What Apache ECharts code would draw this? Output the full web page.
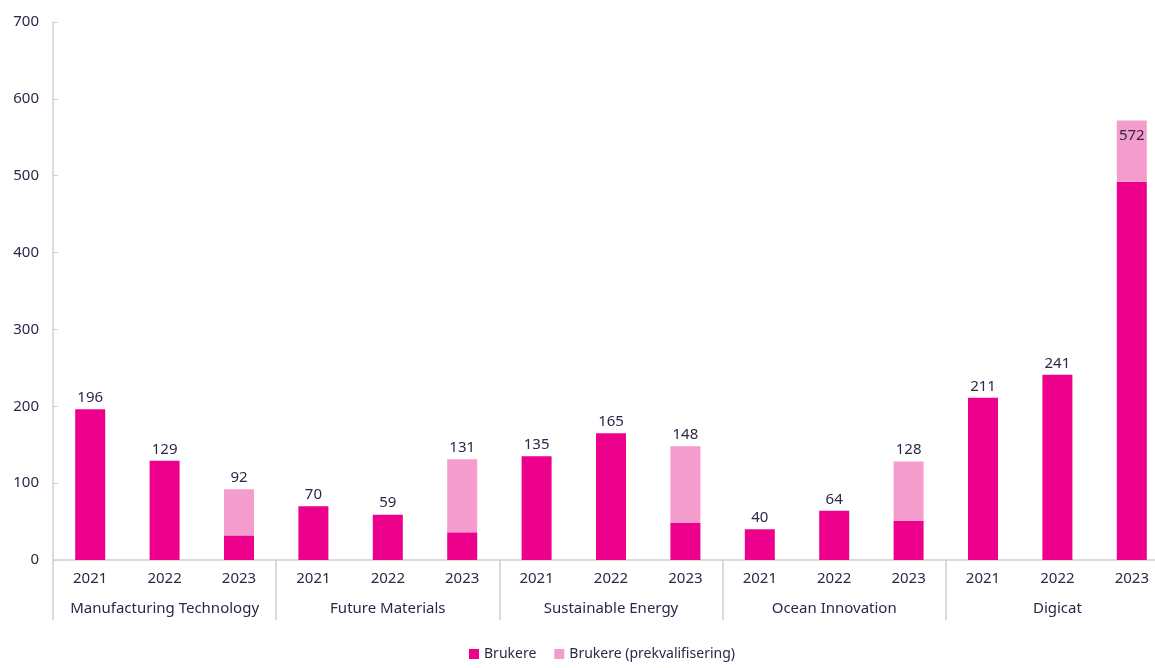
<!DOCTYPE html>
<html>
<head>
<meta charset="utf-8">
<script src="https://cdn.jsdelivr.net/npm/echarts@6/dist/echarts.min.js"></script>
<style>
  html, body { margin: 0; padding: 0; background: #fff; overflow: hidden; }
  /* plottet går litt forbi høyre kant i originalen */
  #chart { width: 1170px; height: 668px; }
</style>
</head>
<body>
<div id="chart"></div>
<script>
// kategorier
var groups = ["Manufacturing Technology", "Future Materials", "Sustainable Energy", "Ocean Innovation", "Digicat"];
var years = ["2021", "2022", "2023"];
// verdier per bar (5 grupper x 3 år)
var brukere = [196, 129, 32, 70, 59, 36, 135, 165, 48, 40, 64, 51, 211, 241, 492];
var prekval = [0, 0, 60, 0, 0, 95, 0, 0, 100, 0, 0, 77, 0, 0, 80];
var yTicks = [0, 100, 200, 300, 400, 500, 600, 700];

var textColor = "#2e2748";
var lineColor = "#d0d0d0";
var font = "Noto Sans";

var cats = [];
groups.forEach(function (g) {
  years.forEach(function (y) { cats.push(y); });
});
var totals = brukere.map(function (v, i) { return v + prekval[i]; });

var myChart = echarts.init(document.getElementById("chart"));
myChart.setOption({
  animation: false,
  textStyle: { fontFamily: font },
  grid: { left: 53, top: 22, bottom: 108, right: 1 },
  legend: {
    bottom: 2,
    left: 464,
    icon: "rect",
    itemWidth: 10,
    itemHeight: 10,
    itemGap: 18,
    textStyle: { color: textColor, fontSize: 14, fontFamily: font },
    data: ["Brukere", "Brukere (prekvalifisering)"]
  },
  xAxis: [
    {
      type: "category",
      data: cats,
      axisLine: { lineStyle: { color: lineColor, width: 1.5 } },
      axisTick: { show: false },
      axisLabel: { color: textColor, fontSize: 15, margin: 11, interval: 0 }
    },
    {
      type: "category",
      data: groups,
      position: "bottom",
      axisLine: { show: false },
      axisTick: { show: true, length: 60, lineStyle: { color: lineColor, width: 1.5 } },
      axisLabel: { color: textColor, fontSize: 15, margin: 41, interval: 0 }
    }
  ],
  yAxis: {
    type: "value",
    min: yTicks[0],
    max: yTicks[yTicks.length - 1],
    interval: 100,
    splitLine: { show: false },
    axisLine: { show: true, lineStyle: { color: lineColor, width: 1.5 } },
    axisTick: { show: true, inside: true, length: 5, lineStyle: { color: lineColor } },
    axisLabel: { color: textColor, fontSize: 15, margin: 14 }
  },
  series: [
    {
      name: "Brukere",
      type: "bar",
      stack: "t",
      barWidth: 30,
      itemStyle: { color: "#ec008c" },
      data: brukere.map(function (v, i) {
        return {
          value: v,
          label: {
            show: prekval[i] === 0,
            position: "top",
            distance: 4,
            color: textColor,
            fontSize: 15,
            formatter: String(totals[i])
          }
        };
      })
    },
    {
      name: "Brukere (prekvalifisering)",
      type: "bar",
      stack: "t",
      barWidth: 30,
      itemStyle: { color: "#f49ccc" },
      data: prekval.map(function (v, i) {
        var big = totals[i] > 500;
        return {
          value: v === 0 ? "-" : v,
          label: {
            show: v !== 0,
            position: big ? "insideTop" : "top",
            distance: big ? 8 : 4,
            color: textColor,
            fontSize: 15,
            formatter: String(totals[i])
          }
        };
      })
    }
  ]
});
</script>
</body>
</html>
